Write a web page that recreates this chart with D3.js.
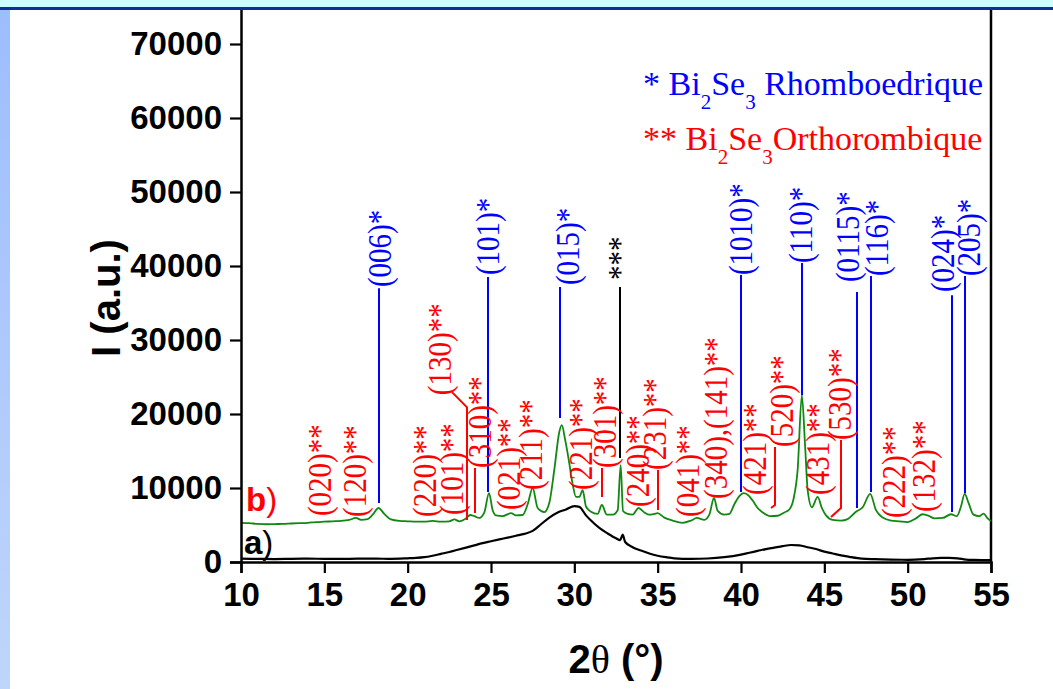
<!DOCTYPE html>
<html>
<head>
<meta charset="utf-8">
<script src="https://cdnjs.cloudflare.com/ajax/libs/d3/7.8.5/d3.min.js"></script>
<style>
  body { margin: 0; background: #fff; }
  svg { display: block; }
</style>
</head>
<body>
<div id="chart"></div>
<script>
// diffractogram b) (green) : 2theta / intensity
var thetaB = [10.0,10.5,11.0,11.5,12.0,12.5,13.0,13.5,14.0,14.5,15.0,15.5,16.0,16.5,16.9,17.2,17.6,17.9,18.25,18.6,
  19.0,19.5,20.0,20.5,21.0,21.5,22.0,22.5,22.8,23.1,23.5,23.75,24.0,24.3,24.6,24.88,25.1,25.3,25.7,26.2,
  26.5,26.9,27.2,27.5,27.8,28.2,28.5,28.8,29.1,29.25,29.45,29.65,29.9,30.1,30.3,30.5,30.7,31.0,31.4,31.65,
  31.95,32.3,32.6,32.78,32.92,33.2,33.5,33.85,34.2,34.5,34.8,35.0,35.4,35.9,36.5,37.0,37.35,37.8,38.1,38.38,
  38.6,39.0,39.3,39.6,39.9,40.15,40.4,40.7,41.0,41.3,41.75,42.2,42.6,42.9,43.15,43.4,43.65,43.85,44.0,44.25,
  44.6,44.85,45.1,45.5,46.0,46.4,46.9,47.3,47.75,48.1,48.5,49.0,49.5,50.0,50.5,50.9,51.3,51.6,52.1,52.6,
  52.95,53.2,53.42,53.65,53.95,54.3,54.55,54.8,55.0];
var intB = [5300,5250,5150,5100,5130,5150,5200,5250,5300,5400,5450,5500,5550,5700,5950,5700,5800,6400,7300,6500,
  5750,5550,5500,5450,5450,5550,5450,5500,5750,5500,5900,6350,6200,5950,6700,9300,7000,6300,6200,6600,
  6300,6350,7800,10000,7300,6750,8000,12500,17600,18500,16500,14000,10500,8800,8800,9700,7500,6800,6500,7700,
  6400,6400,7000,13100,6900,6500,6400,7300,6700,6400,6500,6600,6000,5600,5300,5600,5950,5700,6400,8650,
  6900,6400,6500,7800,8900,9300,9100,8300,7300,6700,6200,6250,6700,7100,8500,12500,22500,15500,9700,7400,
  8800,7300,6300,5700,5600,5800,6800,7400,9200,7000,6000,5600,5500,5400,5900,6450,6200,5900,5950,6450,
  6200,7500,9200,8000,6400,6200,6550,5900,5550];

// diffractogram a) (black)
var thetaA = [10,11,12,13,14,15,16,17,18,19,20,20.5,21,21.5,22,22.5,23,23.5,24,24.5,25,25.5,26,26.5,27,27.5,
  28,28.5,29,29.5,30,30.3,30.7,31,31.5,32,32.5,32.75,32.9,33.05,33.5,34,34.5,35,35.5,36,37,38,39,40,40.5,
  41,41.5,42,42.5,43,43.5,44,44.5,45,45.5,46,46.5,47,47.5,48,49,50,51,51.5,52,52.5,53,53.5,54,55];
var intA = [450,420,400,430,450,430,420,450,450,430,500,550,650,850,1100,1350,1650,1950,2250,2550,2800,3050,3300,3550,3800,4200,
  5100,6000,6700,7100,7550,7450,6300,5600,4600,3850,3200,2950,3700,2700,2000,1550,1150,850,650,500,420,470,650,1000,1250,
  1500,1750,1950,2150,2300,2250,2000,1750,1400,1150,900,700,520,420,380,320,300,400,500,550,550,500,320,280,250];

var xTicks = [10,15,20,25,30,35,40,45,50,55];
var yTicks = [0,10000,20000,30000,40000,50000,60000,70000];

// rhombohedral peaks: label, text position, line position, line base/top, text start (intensity)
var blueLabels = [
  {text: "(006)*",  tx: 18.34, pos: 18.28, base: 7970,  top: 37000, at: 37150},
  {text: "(101)*",  tx: 24.82, pos: 24.82, base: 9450,  top: 38500, at: 38770},
  {text: "(015)*",  tx: 29.62, pos: 29.14, base: 19450, top: 37150, at: 37420},
  {text: "(1010)*", tx: 40.0,  pos: 40.0,  base: 9450,  top: 38800, at: 38770},
  {text: "(110)*",  tx: 43.6,  pos: 43.66, base: 22550, top: 40400, at: 40400},
  {text: "(0115)*", tx: 46.42, pos: 46.96, base: 7300,  top: 36500, at: 37830},
  {text: "(116)*",  tx: 48.16, pos: 47.8,  base: 9450,  top: 38650, at: 38640},
  {text: "(024)*",  tx: 52.12, pos: 52.66, base: 6750,  top: 36050, at: 36480},
  {text: "(205)*",  tx: 53.68, pos: 53.44, base: 9300,  top: 38650, at: 38640}
];
var otherLabels = [
  {text: "***", tx: 32.74, pos: 32.74, base: 14050, top: 37150, at: 38100}
];
// orthorhombic peaks
var redLabels = [
  {text: "(020)**", tx: 14.74, at: 6210},
  {text: "(120)**", tx: 16.84, at: 6080},
  {text: "(220)**", tx: 21.04, at: 6080},
  {text: "(101)**", tx: 22.66, at: 6350},
  {text: "(130)**", tx: 21.94, at: 22550},
  {text: "(310)**", tx: 24.34, at: 12700},
  {text: "(021)**", tx: 26.1,  at: 7030},
  {text: "(211)**", tx: 27.4,  at: 9730},
  {text: "(221)**", tx: 30.4,  at: 9730},
  {text: "(301)**", tx: 31.84, at: 12700},
  {text: "(240)**", tx: 33.82, at: 7430},
  {text: "(231)**", tx: 34.85, at: 12430},
  {text: "(041)**", tx: 36.82, at: 6080},
  {text: "(340),(141)**", tx: 38.5, at: 8510},
  {text: "(421)**", tx: 40.84, at: 9050},
  {text: "(520)**", tx: 42.46, at: 15540},
  {text: "(431)**", tx: 44.62, at: 9050},
  {text: "(530)**", tx: 45.94, at: 16480},
  {text: "(222)**", tx: 49.18, at: 5940},
  {text: "(132)**", tx: 50.98, at: 6750}
];
var redLeaders = [
  [[22.66,22950],[23.56,20900],[23.56,5670]],
  [[24.04,12700],[24.04,6620]],
  [[31.66,12700],[31.66,8780]],
  [[35.02,12430],[35.02,7030]],
  [[42.04,15540],[42.04,7700],[41.8,7300]],
  [[46.0,16480],[46.0,7300],[45.4,6080]]
];

var W = 1053, H = 689;
var svg = d3.select('#chart').append('svg').attr('width', W).attr('height', H);

// slide decoration
var defs = svg.append('defs');
var grad = defs.append('linearGradient').attr('id', 'sideGrad')
  .attr('x1', 0).attr('y1', 0).attr('x2', 0).attr('y2', 1);
grad.append('stop').attr('offset', '0%').attr('stop-color', '#9dbdfd');
grad.append('stop').attr('offset', '100%').attr('stop-color', '#bfd5fb');

var x = d3.scaleLinear().domain([10, 55]).range([241, 991]);
var y = d3.scaleLinear().domain([0, 75000]).range([562, 7]);

// frame right side
svg.append('line').attr('x1', x(55)).attr('x2', x(55)).attr('y1', y(75000)).attr('y2', y(0))
  .attr('stroke', '#000').attr('stroke-width', 2.5);

// curves
var line = d3.line()
  .x(function(d) { return x(d[0]); })
  .y(function(d) { return y(d[1]); })
  .curve(d3.curveMonotoneX);

svg.append('path')
  .datum(d3.zip(thetaA, intA))
  .attr('d', line)
  .attr('fill', 'none').attr('stroke', '#000').attr('stroke-width', 2.2);

svg.append('path')
  .datum(d3.zip(thetaB, intB))
  .attr('d', line)
  .attr('fill', 'none').attr('stroke', '#118811').attr('stroke-width', 1.8);

// peak lines + labels
var labelFont = 'Liberation Serif, Times New Roman, serif';
function peakLines(data, color) {
  svg.append('g').selectAll('line').data(data).enter().append('line')
    .attr('x1', function(d) { return x(d.pos); })
    .attr('x2', function(d) { return x(d.pos); })
    .attr('y1', function(d) { return y(d.base); })
    .attr('y2', function(d) { return y(d.top); })
    .attr('stroke', color).attr('stroke-width', 2);
}
function rotLabels(data, color) {
  svg.append('g').selectAll('text').data(data).enter().append('text')
    .attr('transform', function(d) {
      return 'translate(' + x(d.tx) + ',' + y(d.at) + ') rotate(-90) scale(1,1.15)';
    })
    .attr('dy', '0.32em')
    .attr('font-family', labelFont)
    .attr('font-size', 29)
    .attr('fill', color)
    .text(function(d) { return d.text; });
}
peakLines(blueLabels, '#0000ff');
peakLines(otherLabels, '#000');
rotLabels(blueLabels, '#0000ff');
rotLabels(otherLabels, '#000');
rotLabels(redLabels, '#ff0000');

var leader = d3.line().x(function(d) { return x(d[0]); }).y(function(d) { return y(d[1]); });
svg.append('g').selectAll('path').data(redLeaders).enter().append('path')
  .attr('d', leader).attr('fill', 'none').attr('stroke', '#ff0000').attr('stroke-width', 2);

// axes
var tickFont = 'Liberation Sans, Arial, sans-serif';
var xAxis = svg.append('g').attr('transform', 'translate(0,' + y(0) + ')');
xAxis.call(d3.axisBottom(x).tickValues(d3.range(12.5, 55, 5)).tickSize(6).tickFormat(''));
xAxis.call(d3.axisBottom(x).tickValues(xTicks).tickSize(11).tickPadding(10).tickFormat(d3.format('d')));
var yAxis = svg.append('g').attr('transform', 'translate(' + x(10) + ',0)');
yAxis.call(d3.axisLeft(y).tickValues(d3.range(5000, 75000, 10000)).tickSize(6).tickFormat(''));
yAxis.call(d3.axisLeft(y).tickValues(yTicks).tickSize(11).tickPadding(8).tickFormat(d3.format('d')));
svg.selectAll('.domain').attr('stroke-width', 2.5);
svg.selectAll('.tick line').attr('stroke-width', 2.2);
svg.selectAll('.tick text')
  .attr('font-family', tickFont).attr('font-weight', 'bold').attr('font-size', 33).attr('fill', '#000');

// axis titles
svg.append('text')
  .attr('transform', 'translate(120,298) rotate(-90)')
  .attr('text-anchor', 'middle')
  .attr('font-family', tickFont).attr('font-weight', 'bold').attr('font-size', 40)
  .text('I (a.u.)');
var xt = svg.append('text')
  .attr('x', 616).attr('y', 673)
  .attr('text-anchor', 'middle')
  .attr('font-family', tickFont).attr('font-weight', 'bold').attr('font-size', 40);
xt.append('tspan').text('2');
xt.append('tspan').attr('font-family', labelFont).attr('font-weight', 'normal').text('θ');
xt.append('tspan').text(' (°)');

// sample tags
var tb = svg.append('text').attr('x', 246).attr('y', 511)
  .attr('font-family', tickFont).attr('font-size', 33).attr('fill', '#ff0000');
tb.append('tspan').attr('font-weight', 'bold').text('b');
tb.append('tspan').text(')');
var ta = svg.append('text').attr('x', 244).attr('y', 554)
  .attr('font-family', tickFont).attr('font-size', 33).attr('fill', '#000');
ta.append('tspan').attr('font-weight', 'bold').text('a');
ta.append('tspan').text(')');

// legend
function legendLine(yPos, color, stars, sep, phase) {
  var t = svg.append('text').attr('x', 643).attr('y', yPos)
    .attr('font-family', labelFont).attr('font-size', 34).attr('fill', color);
  t.append('tspan').text(stars + ' Bi');
  t.append('tspan').attr('font-size', 21).attr('dy', 14).text('2');
  t.append('tspan').attr('dy', -14).text('Se');
  t.append('tspan').attr('font-size', 21).attr('dy', 14).text('3');
  t.append('tspan').attr('dy', -14).text(sep + phase);
}
legendLine(95, '#0000ff', '*', ' ', 'Rhomboedrique');
legendLine(150, '#ff0000', '**', '', 'Orthorombique');

// slide bands
svg.append('rect').attr('x', 0).attr('y', 10).attr('width', 10).attr('height', H - 10).attr('fill', 'url(#sideGrad)');
svg.append('rect').attr('x', 0).attr('y', 0).attr('width', W).attr('height', 8).attr('fill', '#ccffff');
svg.append('rect').attr('x', 0).attr('y', 7).attr('width', W).attr('height', 3).attr('fill', '#0a3399');
</script>
</body>
</html>
